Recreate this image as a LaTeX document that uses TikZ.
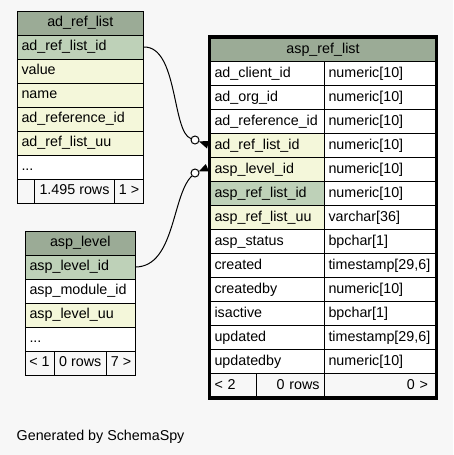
\documentclass[tikz,border=0pt]{standalone}
\usepackage{fontspec}
\setmainfont{Liberation Sans}
\definecolor{bgcol}{HTML}{F7F7F7}
\definecolor{hdrcol}{HTML}{9BAB96}
\definecolor{pkcol}{HTML}{BED1B8}
\definecolor{idxcol}{HTML}{F4F7DA}
\definecolor{footcol}{HTML}{F7F7F7}
\newcommand{\moredots}{...}
\tikzset{
  tblfont/.style={font=\fontsize{14.3}{16}\selectfont},
  cell/.style={draw=black, line width=1pt, anchor=north west, inner xsep=4.5pt, inner ysep=0pt,
    minimum height=24pt, text height=10.5pt, text depth=3pt, tblfont, fill=white, align=left},
  hdr/.style={cell, fill=hdrcol, align=center},
  foot/.style={cell, fill=footcol, inner xsep=1pt, align=center},
  odot/.style={circle, draw=black, line width=1pt, fill=white, minimum size=8pt, inner sep=0pt},
  conn/.style={draw=black, line width=1pt}
}
\begin{document}
\begin{tikzpicture}[x=1pt,y=-1pt]
  % canvas
  \fill[bgcol] (0,0) rectangle (453,455);
  \useasboundingbox (0,0) rectangle (453,455);

  % ad_ref_list
  \node[hdr, minimum width=126.5pt] (arl-h) at (16.5,10.5) {ad\_ref\_list};
  \foreach \txt/\col [count=\i] in {ad\_ref\_list\_id/pkcol, value/idxcol, name/idxcol,
      ad\_reference\_id/idxcol, ad\_ref\_list\_uu/idxcol, \moredots/white} {
    \node[cell, fill=\col, text width=117.5pt] (arl-\i) at (16.5,10.5+24*\i) {\txt};
  }
  \node[foot, minimum width=17.5pt] (arl-f1) at (16.5,178.5) {};
  \node[foot, minimum width=80pt] (arl-f2) at (34,178.5) {1.495 rows};
  \node[foot, minimum width=29pt] (arl-f3) at (114,178.5) {1 >};

  % asp_level
  \node[hdr, minimum width=110.5pt] (al-h) at (24.5,230.5) {asp\_level};
  \foreach \txt/\col [count=\i] in {asp\_level\_id/pkcol, asp\_module\_id/white,
      asp\_level\_uu/idxcol, \moredots/white} {
    \node[cell, fill=\col, text width=101.5pt] (al-\i) at (24.5,230.5+24*\i) {\txt};
  }
  \node[foot, minimum width=29pt] (al-f1) at (24.5,350.5) {< 1};
  \node[foot, minimum width=52.5pt] (al-f2) at (53.5,350.5) {0 rows};
  \node[foot, minimum width=29pt] (al-f3) at (106,350.5) {7 >};

  % asp_ref_list
  \node[hdr, minimum width=226pt] (rl-h) at (209.5,37) {asp\_ref\_list};
  \foreach \nm/\tp/\col [count=\i] in {ad\_client\_id/numeric[10]/white,
      ad\_org\_id/numeric[10]/white, ad\_reference\_id/numeric[10]/white,
      ad\_ref\_list\_id/numeric[10]/idxcol, asp\_level\_id/numeric[10]/idxcol,
      asp\_ref\_list\_id/numeric[10]/pkcol, asp\_ref\_list\_uu/varchar[36]/idxcol,
      asp\_status/bpchar[1]/white, created/{timestamp[29,6]}/white,
      createdby/numeric[10]/white, isactive/bpchar[1]/white,
      updated/{timestamp[29,6]}/white, updatedby/numeric[10]/white} {
    \node[cell, fill=\col, text width=105pt] (rl-n\i) at (209.5,37+24*\i) {\nm};
    \node[cell, text width=103pt] (rl-t\i) at (323.5,37+24*\i) {\tp};
  }
  \node[cell, fill=footcol, text width=37.5pt] (rl-f1) at (209.5,373) {< 2};
  \node[cell, fill=footcol, text width=58.5pt, align=right] (rl-f2) at (256,373) {0 rows};
  \node[cell, fill=footcol, minimum width=112pt, text width=96pt, align=right] (rl-f3) at (323.5,373) {0 >};
  \draw[line width=3.5pt] (rl-h.north west) rectangle (rl-f3.south east);

  % relations
  \node[odot] (o1) at (195,140) {};
  \node[odot] (o2) at (195,173) {};
  \draw[conn] (arl-1.east) .. controls (178,46.5) and (172,132) .. (o1);
  \draw[conn] (al-1.east) .. controls (175,266) and (172,195) .. (o2);
  \coordinate (w1a) at (199,141.4);
  \coordinate (w1b) at (209,141);
  \coordinate (w1c) at (207,148.5);
  \coordinate (w2a) at (198.8,171.4);
  \coordinate (w2b) at (209,171.4);
  \coordinate (w2c) at (205.8,164);
  \fill (w1a) -- (w1b) -- (w1c) -- cycle;
  \fill (w2a) -- (w2b) -- (w2c) -- cycle;

  % footer text
  \node[tblfont, anchor=base west, inner sep=0pt] (gen) at (16.5,440.5) {Generated by SchemaSpy};
\end{tikzpicture}
\end{document}
